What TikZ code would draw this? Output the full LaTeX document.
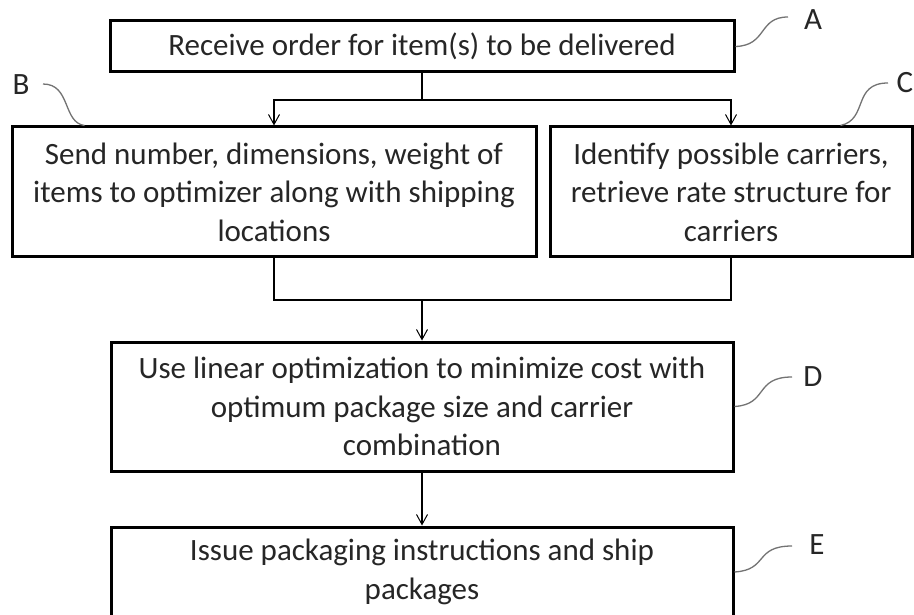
\documentclass[tikz,border=0pt]{standalone}
\usepackage{fontspec}
\setmainfont{Carlito}
\usetikzlibrary{arrows.meta,calc}
\begin{document}
\begin{tikzpicture}[x=1pt,y=-1pt,
  box/.style={draw=black,line width=3pt,inner sep=0pt,align=center,
    font=\fontsize{31}{38.5}\selectfont,text=black!85},
  lab/.style={inner sep=0pt,font=\fontsize{31}{34}\selectfont,text=black!85},
  conn/.style={draw=black,line width=1.1pt},
  arr/.style={conn,-{Straight Barb[length=10pt,width=11pt,line width=1pt]}},
  lead/.style={draw=black!55,line width=1.3pt}]
\useasboundingbox (0,0) rectangle (914,615);
\fill[white] (0,0) rectangle (914,615);
% boxes
\node[box,minimum width=624pt,minimum height=51pt] (A) at (422,46.5)
  {Receive order for item(s) to be delivered};
\node[box,minimum width=524pt,minimum height=130pt] (B) at (274,192)
  {Send number, dimensions, weight of\\items to optimizer along with shipping\\locations};
\node[box,minimum width=362pt,minimum height=130pt] (C) at (731,192)
  {Identify possible carriers,\\retrieve rate structure for\\carriers};
\node[box,minimum width=622pt,minimum height=129pt] (D) at (422,406.5)
  {Use linear optimization to minimize cost with\\optimum package size and carrier\\combination};
\node[box,minimum width=622pt,minimum height=90pt] (E) at (422,572)
  {Issue packaging instructions and ship\\packages};
% connectors
\coordinate (split) at (422,100);
\coordinate (merge) at (422,300);
\draw[conn] (A.south) -- (split);
\draw[arr] (split) -| (B.north);
\draw[arr] (split) -| (C.north);
\draw[conn] (B.south) |- (merge);
\draw[conn] (C.south) |- (merge);
\draw[arr] (merge) -- (D.north);
\draw[arr] (D.south) -- (E.north);
% reference labels
\node[lab] (LA) at (813,20) {A};
\node[lab] (LB) at (21,85) {B};
\node[lab] (LC) at (905,83) {C};
\node[lab] (LD) at (813,377) {D};
\node[lab] (LE) at (817,545) {E};
\coordinate (ea) at (788,17);
\coordinate (eb) at (43,84);
\coordinate (ec) at (888,83);
\coordinate (ed) at (792,377);
\coordinate (ee) at (792,546);
\coordinate (bb) at ($(B.north west)+(74,0)$);
\coordinate (bc) at ($(C.north west)+(292,0)$);
\draw[lead] (A.east) .. controls +(32,-1) and +(-30,0) .. (ea);
\draw[lead] (eb) .. controls +(28,0) and +(-22,-3) .. (bb);
\draw[lead] (bc) .. controls +(28,-6) and +(-36,0) .. (ec);
\draw[lead] (D.east) .. controls +(34,-2) and +(-38,0) .. (ed);
\draw[lead] (E.east) .. controls +(34,-2) and +(-38,0) .. (ee);
\end{tikzpicture}
\end{document}
